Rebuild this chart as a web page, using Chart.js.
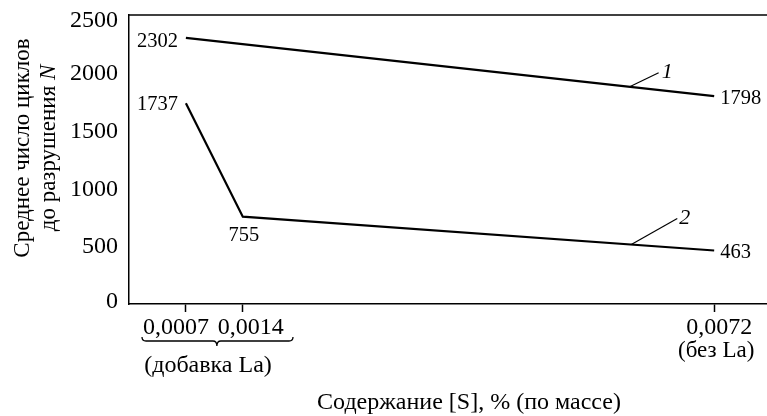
<!DOCTYPE html>
<html lang="ru">
<head>
    <meta charset="UTF-8">
    <title>Среднее число циклов до разрушения</title>
    <script src="https://cdn.jsdelivr.net/npm/chart.js"></script>
    <style>
        html, body { margin: 0; padding: 0; background: #fff; }
        .chart-box { position: relative; width: 767px; height: 416px; }
    </style>
</head>
<body>
    <div class="chart-box">
        <canvas id="fatigueChart"></canvas>
    </div>

    <script>
        // Data
        const sulfur1 = [0.0007, 0.0072];
        const cycles1 = [2302, 1798];
        const sulfur2 = [0.0007, 0.0014, 0.0072];
        const cycles2 = [1737, 755, 463];
        const xTicks = [0.0007, 0.0014, 0.0072];
        const yTicks = [0, 500, 1000, 1500, 2000, 2500];
        const curveNames = ['1', '2'];

        const FONT = '"Liberation Serif", "DejaVu Serif", serif';
        const ink = '#000';

        const fmt = v => String(v).replace('.', ',');

        const toPoints = (xs, ys) => xs.map((x, i) => ({ x: x, y: ys[i] }));

        // value of a polyline at a given x (for the leader lines of labels 1 and 2)
        function valueAt(xs, ys, x) {
            for (let i = 0; i < xs.length - 1; i++) {
                if (x >= xs[i] && x <= xs[i + 1]) {
                    const t = (x - xs[i]) / (xs[i + 1] - xs[i]);
                    return ys[i] + t * (ys[i + 1] - ys[i]);
                }
            }
            return ys[ys.length - 1];
        }

        const decorations = {
            id: 'decorations',
            afterDraw(chart) {
                const ctx = chart.ctx;
                const a = chart.chartArea;
                const xs = chart.scales.x, ys = chart.scales.y;
                const px = (x) => xs.getPixelForValue(x);
                const py = (y) => ys.getPixelForValue(y);
                ctx.save();
                ctx.fillStyle = ink;
                ctx.strokeStyle = ink;

                // top frame line
                ctx.lineWidth = 1.5;
                ctx.beginPath();
                ctx.moveTo(a.left, a.top);
                ctx.lineTo(a.right, a.top);
                ctx.stroke();

                // y tick labels (end ones nudged inside like the original)
                ctx.font = '24px ' + FONT;
                ctx.textAlign = 'right';
                ctx.textBaseline = 'middle';
                yTicks.forEach(v => {
                    let nudge = 1;
                    if (v === yTicks[yTicks.length - 1]) nudge = 6;
                    if (v === yTicks[0]) nudge = -2;
                    ctx.fillText(String(v), a.left - 11, py(v) + nudge);
                });

                // x tick labels, the first two pushed apart
                const xShift = [-10, 8, 5];
                ctx.textAlign = 'center';
                xTicks.forEach((v, i) => {
                    ctx.fillText(fmt(v), px(v) + xShift[i], a.bottom + 24);
                });

                // value labels
                ctx.font = '20.5px ' + FONT;
                ctx.textAlign = 'right';
                ctx.fillText(String(cycles1[0]), px(sulfur1[0]) - 8, py(cycles1[0]) + 4);
                ctx.fillText(String(cycles2[0]), px(sulfur2[0]) - 8, py(cycles2[0]) + 1);
                ctx.textAlign = 'left';
                ctx.fillText(String(cycles1[1]), px(sulfur1[1]) + 6, py(cycles1[1]) + 2);
                ctx.fillText(String(cycles2[2]), px(sulfur2[2]) + 6, py(cycles2[2]) + 2);
                ctx.textAlign = 'center';
                ctx.fillText(String(cycles2[1]), px(sulfur2[1]) + 1, py(cycles2[1]) + 19);

                // curve numbers with leader lines
                ctx.lineWidth = 1.2;
                const leaders = [
                    { xs: sulfur1, ys: cycles1, at: 0.00616, dx: 29, dy: -14, tx: 32, ty: -15 },
                    { xs: sulfur2, ys: cycles2, at: 0.00618, dx: 46, dy: -26, tx: 48, ty: -26 }
                ];
                ctx.font = 'italic 22px ' + FONT;
                ctx.textAlign = 'left';
                leaders.forEach((l, i) => {
                    const x0 = px(l.at), y0 = py(valueAt(l.xs, l.ys, l.at));
                    ctx.beginPath();
                    ctx.moveTo(x0, y0);
                    ctx.lineTo(x0 + l.dx, y0 + l.dy);
                    ctx.stroke();
                    ctx.fillText(curveNames[i], x0 + l.tx, y0 + l.ty);
                });

                // brace under the first two tick labels
                const bx1 = 142, bx2 = 293;
                const bm = px(xTicks[0]) + 31, by = a.bottom + 37;
                ctx.lineWidth = 1.3;
                ctx.beginPath();
                ctx.moveTo(bx1, by - 4);
                ctx.quadraticCurveTo(bx1, by, bx1 + 4, by);
                ctx.lineTo(bm - 4, by);
                ctx.quadraticCurveTo(bm, by, bm, by + 5);
                ctx.quadraticCurveTo(bm, by, bm + 4, by);
                ctx.lineTo(bx2 - 4, by);
                ctx.quadraticCurveTo(bx2, by, bx2, by - 4);
                ctx.stroke();

                ctx.font = '24px ' + FONT;
                ctx.textAlign = 'center';
                ctx.fillText('(добавка La)', 208, a.bottom + 62);
                ctx.font = '23px ' + FONT;
                ctx.fillText('(без La)', px(xTicks[2]) + 2, a.bottom + 47);

                // x axis title
                ctx.font = '24px ' + FONT;
                ctx.fillText('Содержание [S], % (по массе)', 469, 403);

                // y axis title, two lines, N in italic
                ctx.translate(0, 148);
                ctx.rotate(-Math.PI / 2);
                ctx.textBaseline = 'alphabetic';
                ctx.font = '23px ' + FONT;
                ctx.fillText('Среднее число циклов', 0, 29);
                const t1 = 'до разрушения ';
                const w1 = ctx.measureText(t1).width;
                ctx.font = 'italic 23px ' + FONT;
                const w2 = ctx.measureText('N').width;
                const start = -(w1 + w2) / 2;
                ctx.textAlign = 'left';
                ctx.fillText('N', start + w1, 55);
                ctx.font = '23px ' + FONT;
                ctx.fillText(t1, start, 55);

                ctx.restore();
            }
        };

        const ctx = document.getElementById('fatigueChart').getContext('2d');
        new Chart(ctx, {
            type: 'line',
            data: {
                datasets: [
                    {
                        label: '1',
                        data: toPoints(sulfur1, cycles1),
                        borderColor: ink,
                        borderWidth: 2.2,
                        pointRadius: 0,
                        tension: 0
                    },
                    {
                        label: '2',
                        data: toPoints(sulfur2, cycles2),
                        borderColor: ink,
                        borderWidth: 2.2,
                        pointRadius: 0,
                        tension: 0
                    }
                ]
            },
            options: {
                responsive: true,
                maintainAspectRatio: false,
                animation: false,
                layout: { padding: { top: 15, right: 0, bottom: 0, left: 0 } },
                plugins: {
                    legend: { display: false },
                    tooltip: { enabled: false }
                },
                scales: {
                    x: {
                        type: 'linear',
                        min: 0,
                        max: 0.00785,
                        afterBuildTicks: (scale) => {
                            scale.ticks = xTicks.map(v => ({ value: v }));
                        },
                        afterFit: (scale) => { scale.height = 112; },
                        grid: {
                            drawOnChartArea: false,
                            color: ink,
                            tickLength: 8,
                            tickWidth: 1.5
                        },
                        border: { display: true, color: ink, width: 1.5 },
                        ticks: { display: false }
                    },
                    y: {
                        min: 0,
                        max: 2500,
                        afterBuildTicks: (scale) => {
                            scale.ticks = yTicks.map(v => ({ value: v }));
                        },
                        afterFit: (scale) => { scale.width = 129; },
                        grid: { drawOnChartArea: false, drawTicks: false },
                        border: { display: true, color: ink, width: 1.5 },
                        ticks: { display: false }
                    }
                }
            },
            plugins: [decorations]
        });
    </script>
</body>
</html>
